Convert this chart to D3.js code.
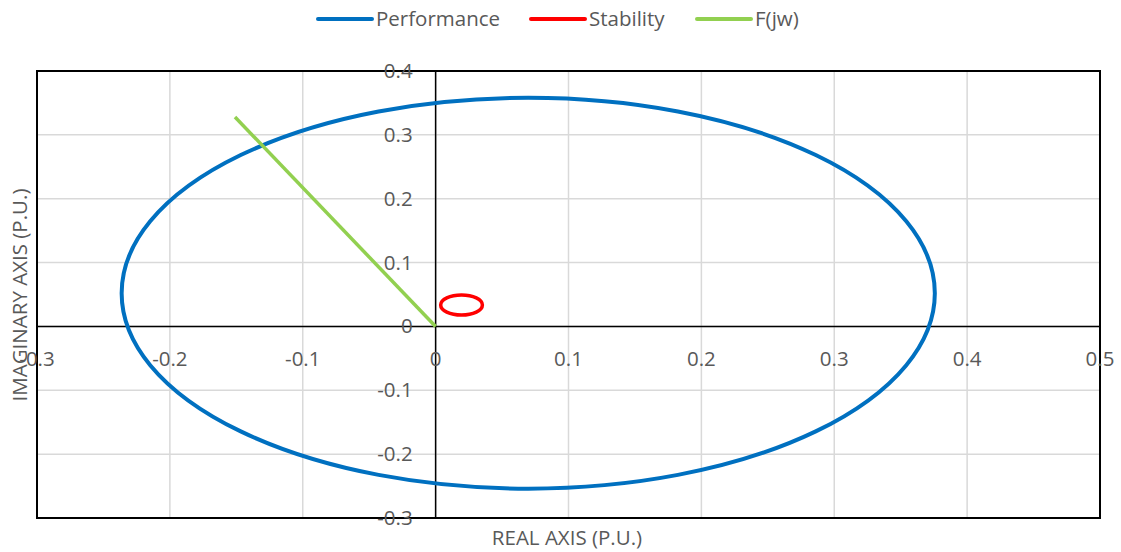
<!DOCTYPE html>
<html>
<head>
<meta charset="utf-8">
<script src="https://cdn.jsdelivr.net/npm/d3@7"></script>
<style>
  html, body { margin: 0; padding: 0; background: #fff; }
  svg { display: block; font-family: "Open Sans", "Noto Sans", sans-serif; }
</style>
</head>
<body>
<svg id="chart" width="1121" height="552"></svg>
<script>
// Circle loci in the complex plane: [centre real, centre imaginary, radius]
const seriesNames = ["Performance", "Stability", "F(jw)"];
const seriesColors = ["#0070C0", "#FF0000", "#92D050"];
const performanceCircle = [0.0697, 0.052, 0.306];
const stabilityCircle = [0.0195, 0.0335, 0.0157];
// F(jw) vector from the origin
const fjwReal = [0, -0.151];
const fjwImag = [0, 0.328];

const xTicks = [-0.3, -0.2, -0.1, 0, 0.1, 0.2, 0.3, 0.4, 0.5];
const yTicks = [-0.3, -0.2, -0.1, 0, 0.1, 0.2, 0.3, 0.4];

const svg = d3.select("#chart");
const plot = { left: 37, right: 1100, top: 71, bottom: 518 };
const fontSize = 20.5;

const x = d3.scaleLinear().domain([-0.3, 0.5]).range([plot.left, plot.right]);
const y = d3.scaleLinear().domain([-0.3, 0.4]).range([plot.bottom, plot.top]);

// tick format with a plain hyphen for negatives
const locale = d3.formatLocale({ decimal: ".", thousands: ",", grouping: [3], currency: ["", ""], minus: "-" });
const fmt = d => d === 0 ? "0" : locale.format(".1f")(d);

// gridlines
const grid = svg.append("g");
grid.selectAll("line.vx").data(xTicks).join("line")
  .attr("x1", d => x(d)).attr("x2", d => x(d))
  .attr("y1", plot.top).attr("y2", plot.bottom)
  .attr("stroke", "#d9d9d9").attr("stroke-width", 1.5);
grid.selectAll("line.hy").data(yTicks).join("line")
  .attr("y1", d => y(d)).attr("y2", d => y(d))
  .attr("x1", plot.left).attr("x2", plot.right)
  .attr("stroke", "#d9d9d9").attr("stroke-width", 1.5);

// axes crossing at the origin
svg.append("line")
  .attr("x1", plot.left).attr("x2", plot.right)
  .attr("y1", y(0)).attr("y2", y(0))
  .attr("stroke", "#000").attr("stroke-width", 1.5);
svg.append("line")
  .attr("x1", x(0)).attr("x2", x(0))
  .attr("y1", plot.top).attr("y2", plot.bottom)
  .attr("stroke", "#000").attr("stroke-width", 1.5);

// plot frame
svg.append("rect")
  .attr("x", plot.left).attr("y", plot.top)
  .attr("width", plot.right - plot.left).attr("height", plot.bottom - plot.top)
  .attr("fill", "none").attr("stroke", "#000").attr("stroke-width", 2);

// tick labels
svg.append("g").selectAll("text").data(xTicks).join("text")
  .attr("x", d => x(d)).attr("y", y(0) + 40)
  .attr("text-anchor", "middle")
  .attr("font-size", fontSize).attr("fill", "#595959")
  .text(fmt);
svg.append("g").selectAll("text").data(yTicks).join("text")
  .attr("x", x(0) - 23).attr("y", d => y(d) + 7)
  .attr("text-anchor", "end")
  .attr("font-size", fontSize).attr("fill", "#595959")
  .text(fmt);

// axis titles
svg.append("text")
  .attr("x", 567).attr("y", 545)
  .attr("text-anchor", "middle")
  .attr("font-size", fontSize).attr("fill", "#595959")
  .text("REAL AXIS (P.U.)");
svg.append("text")
  .attr("transform", "translate(27,295) rotate(-90)")
  .attr("text-anchor", "middle")
  .attr("font-size", fontSize).attr("fill", "#595959")
  .text("IMAGINARY AXIS (P.U.)");

// circles
function drawCircle(c, color, width) {
  svg.append("ellipse")
    .attr("cx", x(c[0])).attr("cy", y(c[1]))
    .attr("rx", x(c[0] + c[2]) - x(c[0]))
    .attr("ry", y(c[1]) - y(c[1] + c[2]))
    .attr("fill", "none").attr("stroke", color).attr("stroke-width", width);
}
drawCircle(performanceCircle, seriesColors[0], 4);
drawCircle(stabilityCircle, seriesColors[1], 3.5);

// F(jw) line
const fjw = fjwReal.map((r, i) => [r, fjwImag[i]]);
svg.append("path")
  .datum(fjw)
  .attr("d", d3.line().x(d => x(d[0])).y(d => y(d[1])))
  .attr("fill", "none").attr("stroke", seriesColors[2]).attr("stroke-width", 3.5);

// legend
const legendX = [318, 531, 697];
const lg = svg.append("g");
seriesNames.forEach((name, i) => {
  lg.append("line")
    .attr("x1", legendX[i]).attr("x2", legendX[i] + 54)
    .attr("y1", 19).attr("y2", 19)
    .attr("stroke", seriesColors[i]).attr("stroke-width", 4)
    .attr("stroke-linecap", "round");
  lg.append("text")
    .attr("x", legendX[i] + 58).attr("y", 26)
    .attr("font-size", fontSize).attr("fill", "#595959")
    .text(name);
});
</script>
</body>
</html>
